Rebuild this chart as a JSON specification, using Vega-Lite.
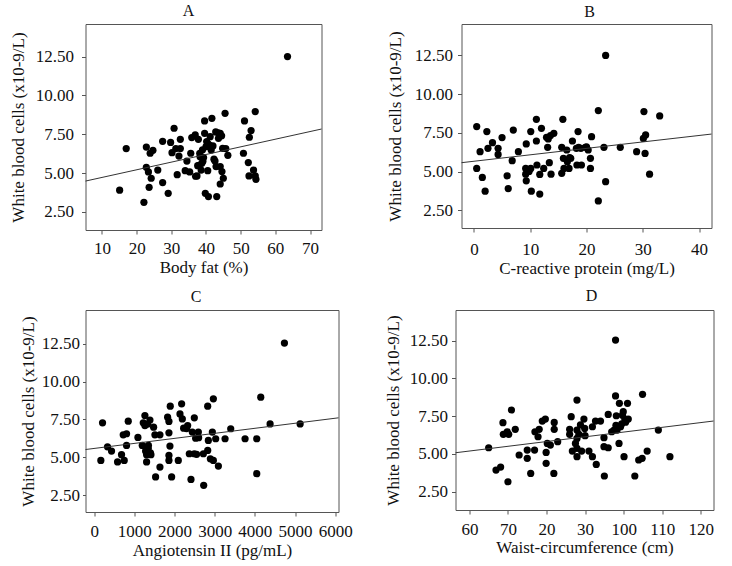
{
  "$schema": "https://vega.github.io/schema/vega-lite/v6.json",
  "padding": {"left": 8.5, "top": 2, "right": 5, "bottom": 5},
  "background": "white",
  "config": {
    "font": "Liberation Serif",
    "view": {"stroke": "#555", "strokeWidth": 1},
    "axis": {"grid": false, "domain": false, "tickColor": "#555", "tickSize": 4, "labelFont": "Liberation Serif", "labelFontSize": 17, "labelColor": "#111", "titleFont": "Liberation Serif", "titleFontSize": 17, "titleFontWeight": "normal", "titleColor": "#111", "labelFlush": false, "labelOverlap": false},
    "title": {"font": "Liberation Serif", "fontSize": 16, "fontWeight": "normal", "anchor": "middle", "color": "#111"}
  },
  "datasets": {
    "a": [
      {"x":15.1,"y":3.9},{"x":17.0,"y":6.58},{"x":22.1,"y":3.12},{"x":22.8,"y":6.68},{"x":22.8,"y":5.38},{"x":23.4,"y":5.08},{"x":23.6,"y":4.09},{"x":23.9,"y":6.28},{"x":24.2,"y":4.67},{"x":24.7,"y":6.47},
      {"x":26.1,"y":5.2},{"x":27.5,"y":7.05},{"x":27.5,"y":4.39},{"x":29.1,"y":3.7},{"x":29.8,"y":6.98},{"x":30.2,"y":6.32},{"x":30.8,"y":7.89},{"x":31.3,"y":6.58},{"x":31.7,"y":4.9},{"x":32.2,"y":6.1},
      {"x":32.6,"y":7.18},{"x":32.6,"y":6.58},{"x":34.0,"y":5.16},{"x":34.5,"y":5.78},{"x":35.3,"y":5.08},{"x":35.6,"y":6.28},{"x":35.9,"y":7.29},{"x":36.9,"y":7.46},{"x":37.6,"y":5.48},{"x":37.4,"y":4.82},
      {"x":37.8,"y":7.18},{"x":38.2,"y":6.28},{"x":38.3,"y":6.06},{"x":38.6,"y":5.2},{"x":38.8,"y":5.63},{"x":39.1,"y":5.76},{"x":39.6,"y":8.36},{"x":39.6,"y":7.56},{"x":39.8,"y":3.7},{"x":40.0,"y":6.7},
      {"x":40.2,"y":7.03},{"x":40.5,"y":5.16},{"x":40.7,"y":3.49},{"x":41.2,"y":7.35},{"x":41.5,"y":6.49},{"x":41.7,"y":8.53},{"x":42.0,"y":6.75},{"x":42.6,"y":5.78},{"x":42.8,"y":7.65},{"x":42.9,"y":5.42},
      {"x":43.1,"y":3.49},{"x":43.6,"y":7.24},{"x":44.1,"y":7.56},{"x":44.1,"y":5.42},{"x":44.1,"y":4.3},{"x":44.6,"y":5.1},{"x":44.8,"y":6.6},{"x":45.0,"y":4.67},{"x":45.5,"y":8.85},{"x":45.7,"y":6.58},
      {"x":46.3,"y":6.15},{"x":50.8,"y":6.28},{"x":51.1,"y":8.36},{"x":52.2,"y":5.68},{"x":52.5,"y":7.31},{"x":52.4,"y":4.82},{"x":53.0,"y":7.74},{"x":53.7,"y":5.2},{"x":54.2,"y":8.96},{"x":54.2,"y":4.82},
      {"x":54.4,"y":4.6},{"x":63.5,"y":12.5},{"x":40.5,"y":6.9},{"x":39.0,"y":6.5},{"x":41.0,"y":6.8},{"x":43.5,"y":7.6},{"x":38.0,"y":5.5},{"x":37.0,"y":4.8},{"x":44.5,"y":7.4},{"x":39.3,"y":6.0},{"x":42.3,"y":5.9}
    ],
    "aLine": [{"x":5.26,"y":4.49},{"x":73.3,"y":7.84}],
    "b": [
      {"x":0.5,"y":7.9},{"x":0.5,"y":5.2},{"x":1.1,"y":6.28},{"x":1.5,"y":4.62},{"x":2.0,"y":3.73},{"x":2.3,"y":7.58},{"x":2.5,"y":6.5},{"x":3.3,"y":6.86},{"x":4.3,"y":6.5},{"x":4.3,"y":6.1},
      {"x":5.0,"y":7.19},{"x":5.9,"y":4.72},{"x":6.1,"y":3.9},{"x":6.8,"y":5.7},{"x":7.0,"y":7.68},{"x":7.9,"y":6.28},{"x":9.3,"y":6.78},{"x":9.2,"y":5.2},{"x":9.2,"y":4.83},{"x":9.3,"y":4.4},
      {"x":10.1,"y":7.58},{"x":10.1,"y":5.2},{"x":10.2,"y":3.73},{"x":11.1,"y":8.37},{"x":11.1,"y":6.97},{"x":11.2,"y":5.42},{"x":11.7,"y":3.54},{"x":11.7,"y":4.81},{"x":12.0,"y":7.79},{"x":12.4,"y":5.2},
      {"x":12.9,"y":7.21},{"x":13.1,"y":6.56},{"x":13.4,"y":5.57},{"x":13.6,"y":7.32},{"x":13.7,"y":4.83},{"x":14.2,"y":7.47},{"x":15.6,"y":6.56},{"x":15.6,"y":4.88},{"x":15.8,"y":8.37},{"x":15.9,"y":5.85},
      {"x":16.0,"y":5.2},{"x":16.5,"y":6.39},{"x":16.6,"y":5.63},{"x":16.9,"y":5.2},{"x":17.2,"y":5.85},{"x":17.5,"y":6.97},{"x":18.2,"y":6.5},{"x":18.3,"y":5.42},{"x":18.5,"y":7.58},{"x":18.6,"y":6.56},
      {"x":19.1,"y":5.42},{"x":19.8,"y":6.56},{"x":20.3,"y":6.39},{"x":20.7,"y":5.2},{"x":20.7,"y":5.85},{"x":20.9,"y":7.25},{"x":22.1,"y":8.94},{"x":22.1,"y":3.1},{"x":23.1,"y":6.56},{"x":23.4,"y":12.5},
      {"x":23.4,"y":4.34},{"x":26.0,"y":6.56},{"x":28.9,"y":6.28},{"x":30.2,"y":8.87},{"x":30.1,"y":7.14},{"x":30.5,"y":7.36},{"x":30.4,"y":6.17},{"x":31.2,"y":4.83},{"x":33.0,"y":8.59},
      {"x":19.0,"y":6.5},{"x":17.0,"y":5.9},{"x":20.0,"y":6.6},{"x":13.2,"y":7.1},{"x":9.8,"y":5.0}
    ],
    "bLine": [{"x":-2.2,"y":5.57},{"x":42.2,"y":7.42}],
    "c": [
      {"x":166,"y":4.8},{"x":208,"y":7.28},{"x":332,"y":5.7},{"x":432,"y":5.42},{"x":582,"y":4.7},{"x":681,"y":5.18},{"x":748,"y":4.8},{"x":723,"y":6.49},{"x":806,"y":6.56},{"x":806,"y":5.79},
      {"x":848,"y":7.39},{"x":1089,"y":6.32},{"x":1197,"y":5.79},{"x":1222,"y":7.28},{"x":1263,"y":7.76},{"x":1263,"y":7.1},{"x":1280,"y":5.42},{"x":1305,"y":4.7},{"x":1305,"y":5.18},{"x":1346,"y":5.61},
      {"x":1388,"y":7.46},{"x":1413,"y":5.18},{"x":1479,"y":6.99},{"x":1512,"y":6.49},{"x":1529,"y":3.71},{"x":1637,"y":4.36},{"x":1637,"y":6.49},{"x":1828,"y":7.65},{"x":1861,"y":7.37},{"x":1861,"y":4.8},
      {"x":1861,"y":5.13},{"x":1861,"y":6.62},{"x":1886,"y":5.75},{"x":1894,"y":8.38},{"x":1928,"y":3.71},{"x":2094,"y":4.8},{"x":2136,"y":7.87},{"x":2177,"y":8.53},{"x":2194,"y":7.54},{"x":2227,"y":6.93},
      {"x":2327,"y":7.1},{"x":2368,"y":5.24},{"x":2410,"y":3.55},{"x":2443,"y":6.67},{"x":2493,"y":7.61},{"x":2526,"y":6.27},{"x":2493,"y":5.24},{"x":2593,"y":6.67},{"x":2718,"y":5.24},{"x":2726,"y":3.16},
      {"x":2826,"y":5.46},{"x":2826,"y":8.38},{"x":2842,"y":6.12},{"x":2892,"y":4.91},{"x":2967,"y":8.86},{"x":2942,"y":6.67},{"x":2967,"y":4.8},{"x":3025,"y":6.23},{"x":3092,"y":4.43},{"x":3258,"y":6.23},
      {"x":3399,"y":6.89},{"x":3756,"y":6.23},{"x":4047,"y":6.23},{"x":4047,"y":3.93},{"x":4147,"y":8.97},{"x":4379,"y":7.21},{"x":4736,"y":12.54},{"x":5127,"y":7.21},
      {"x":1400,"y":5.3},{"x":1350,"y":5.8},{"x":2600,"y":6.3},{"x":2550,"y":5.2},{"x":1330,"y":7.2},{"x":2300,"y":6.9}
    ],
    "cLine": [{"x":-216,"y":5.52},{"x":6082,"y":7.61}],
    "d": [
      {"x":65.0,"y":5.41},{"x":66.9,"y":3.93},{"x":68.1,"y":4.13},{"x":68.7,"y":7.07},{"x":68.8,"y":6.3},{"x":69.8,"y":6.47},{"x":70.0,"y":3.16},{"x":70.2,"y":6.3},{"x":70.9,"y":7.91},{"x":71.9,"y":6.63},
      {"x":72.9,"y":4.93},{"x":75.0,"y":4.71},{"x":75.0,"y":5.26},{"x":75.9,"y":3.71},{"x":76.9,"y":5.26},{"x":77.0,"y":6.47},{"x":77.8,"y":6.14},{"x":78.1,"y":6.63},{"x":78.9,"y":7.18},{"x":79.7,"y":7.31},
      {"x":79.9,"y":5.1},{"x":79.9,"y":4.38},{"x":80.2,"y":5.7},{"x":81.0,"y":5.59},{"x":81.9,"y":3.71},{"x":82.0,"y":7.09},{"x":82.0,"y":6.63},{"x":82.9,"y":5.81},{"x":86.4,"y":7.47},{"x":86.0,"y":6.63},
      {"x":86.0,"y":6.3},{"x":86.7,"y":5.19},{"x":87.9,"y":8.57},{"x":87.9,"y":6.58},{"x":87.9,"y":6.03},{"x":87.9,"y":5.37},{"x":87.9,"y":4.82},{"x":88.4,"y":6.3},{"x":88.8,"y":6.92},{"x":89.1,"y":5.19},
      {"x":89.7,"y":7.31},{"x":89.9,"y":6.69},{"x":90.0,"y":6.21},{"x":91.0,"y":5.19},{"x":91.9,"y":4.82},{"x":91.9,"y":6.8},{"x":92.7,"y":7.18},{"x":92.9,"y":4.31},{"x":94.0,"y":7.18},{"x":94.9,"y":6.08},
      {"x":94.9,"y":5.48},{"x":95.0,"y":3.54},{"x":96.0,"y":7.62},{"x":96.0,"y":5.41},{"x":96.9,"y":6.47},{"x":97.5,"y":6.58},{"x":97.9,"y":12.54},{"x":97.9,"y":8.84},{"x":98.1,"y":7.53},{"x":98.3,"y":6.58},
      {"x":98.8,"y":5.7},{"x":98.9,"y":8.35},{"x":99.2,"y":6.8},{"x":99.7,"y":7.57},{"x":99.9,"y":7.8},{"x":100.1,"y":4.82},{"x":100.3,"y":7.31},{"x":101.0,"y":8.35},{"x":101.2,"y":7.31},{"x":102.9,"y":3.54},
      {"x":103.9,"y":4.6},{"x":104.8,"y":4.71},{"x":104.9,"y":8.95},{"x":106.1,"y":5.19},{"x":109.0,"y":6.58},{"x":112.0,"y":4.82},
      {"x":87.5,"y":5.7},{"x":99.5,"y":7.0},{"x":98.0,"y":6.9},{"x":100.5,"y":7.1}
    ],
    "dLine": [{"x":56.4,"y":5.08},{"x":123.3,"y":7.18}]
  },
  "spacing": 10,
  "columns": 1,
  "align": "none",
  "concat": [
    {
      "spacing": 61,
      "hconcat": [
        {
          "title": {"text": "A", "dx": -15, "offset": 5},
          "width": 236, "height": 206,
          "encoding": {
            "x": {"field": "x", "type": "quantitative", "scale": {"domain": [5.26, 73.3], "nice": false, "zero": false}, "axis": {"title": "Body fat (%)", "values": [10,20,30,40,50,60,70], "labelOverlap": false, "labelPadding": 6, "titlePadding": 3}},
            "y": {"field": "y", "type": "quantitative", "scale": {"domain": [1.34, 14.6], "nice": false, "zero": false}, "axis": {"title": "White blood cells (x10-9/L)", "values": [2.5,5,7.5,10,12.5], "format": ".2f", "labelOverlap": false, "labelPadding": 8, "titlePadding": 8}}
          },
          "layer": [
            {"data": {"name": "a"}, "mark": {"type": "circle", "size": 52, "color": "black", "opacity": 1}},
            {"data": {"name": "aLine"}, "mark": {"type": "line", "color": "#333", "strokeWidth": 1}}
          ]
        },
        {
          "title": {"text": "B", "dx": 3, "offset": 4},
          "width": 250, "height": 204,
          "encoding": {
            "x": {"field": "x", "type": "quantitative", "scale": {"domain": [-2.2, 42.2], "nice": false, "zero": false}, "axis": {"title": "C-reactive protein (mg/L)", "values": [0,10,20,30,40], "labelOverlap": false, "labelPadding": 9, "titlePadding": 3}},
            "y": {"field": "y", "type": "quantitative", "scale": {"domain": [1.35, 14.53], "nice": false, "zero": false}, "axis": {"title": "White blood cells (x10-9/L)", "values": [2.5,5,7.5,10,12.5], "format": ".2f", "labelOverlap": false, "labelPadding": 5, "titlePadding": 10}}
          },
          "layer": [
            {"data": {"name": "b"}, "mark": {"type": "circle", "size": 52, "color": "black", "opacity": 1}},
            {"data": {"name": "bLine"}, "mark": {"type": "line", "color": "#333", "strokeWidth": 1}}
          ]
        }
      ]
    },
    {
      "spacing": 30,
      "hconcat": [
        {
          "title": {"text": "C", "dx": -16, "offset": 5},
          "width": 253, "height": 202,
          "encoding": {
            "x": {"field": "x", "type": "quantitative", "scale": {"domain": [-216, 6082], "nice": false, "zero": false}, "axis": {"title": "Angiotensin II (pg/mL)", "values": [0,1000,2000,3000,4000,5000,6000], "format": "d", "labelOverlap": false, "labelPadding": 7, "titlePadding": 3}},
            "y": {"field": "y", "type": "quantitative", "scale": {"domain": [1.4, 14.72], "nice": false, "zero": false}, "axis": {"title": "White blood cells (x10-9/L)", "values": [2.5,5,7.5,10,12.5], "format": ".2f", "labelOverlap": false, "tickSize": 3, "labelPadding": 3, "titlePadding": 4}}
          },
          "layer": [
            {"data": {"name": "c"}, "mark": {"type": "circle", "size": 52, "color": "black", "opacity": 1}},
            {"data": {"name": "cLine"}, "mark": {"type": "line", "color": "#333", "strokeWidth": 1}}
          ]
        },
        {
          "title": {"text": "D", "dx": 7, "offset": 6},
          "width": 258, "height": 200,
          "encoding": {
            "x": {"field": "x", "type": "quantitative", "scale": {"domain": [56.4, 123.3], "nice": false, "zero": false}, "axis": {"title": "Waist-circumference (cm)", "values": [60,70,80,90,100,110,120], "labelExpr": "datum.value == 80 ? '20' : datum.value == 90 ? '30' : datum.label", "labelOverlap": false, "labelPadding": 7, "titlePadding": 2}},
            "y": {"field": "y", "type": "quantitative", "scale": {"domain": [1.29, 14.53], "nice": false, "zero": false}, "axis": {"title": "White blood cells (x10-9/L)", "values": [2.5,5,7.5,10,12.5], "format": ".2f", "labelOverlap": false, "labelPadding": 4, "titlePadding": 7}}
          },
          "layer": [
            {"data": {"name": "d"}, "mark": {"type": "circle", "size": 52, "color": "black", "opacity": 1}},
            {"data": {"name": "dLine"}, "mark": {"type": "line", "color": "#333", "strokeWidth": 1}}
          ]
        }
      ]
    }
  ]
}
